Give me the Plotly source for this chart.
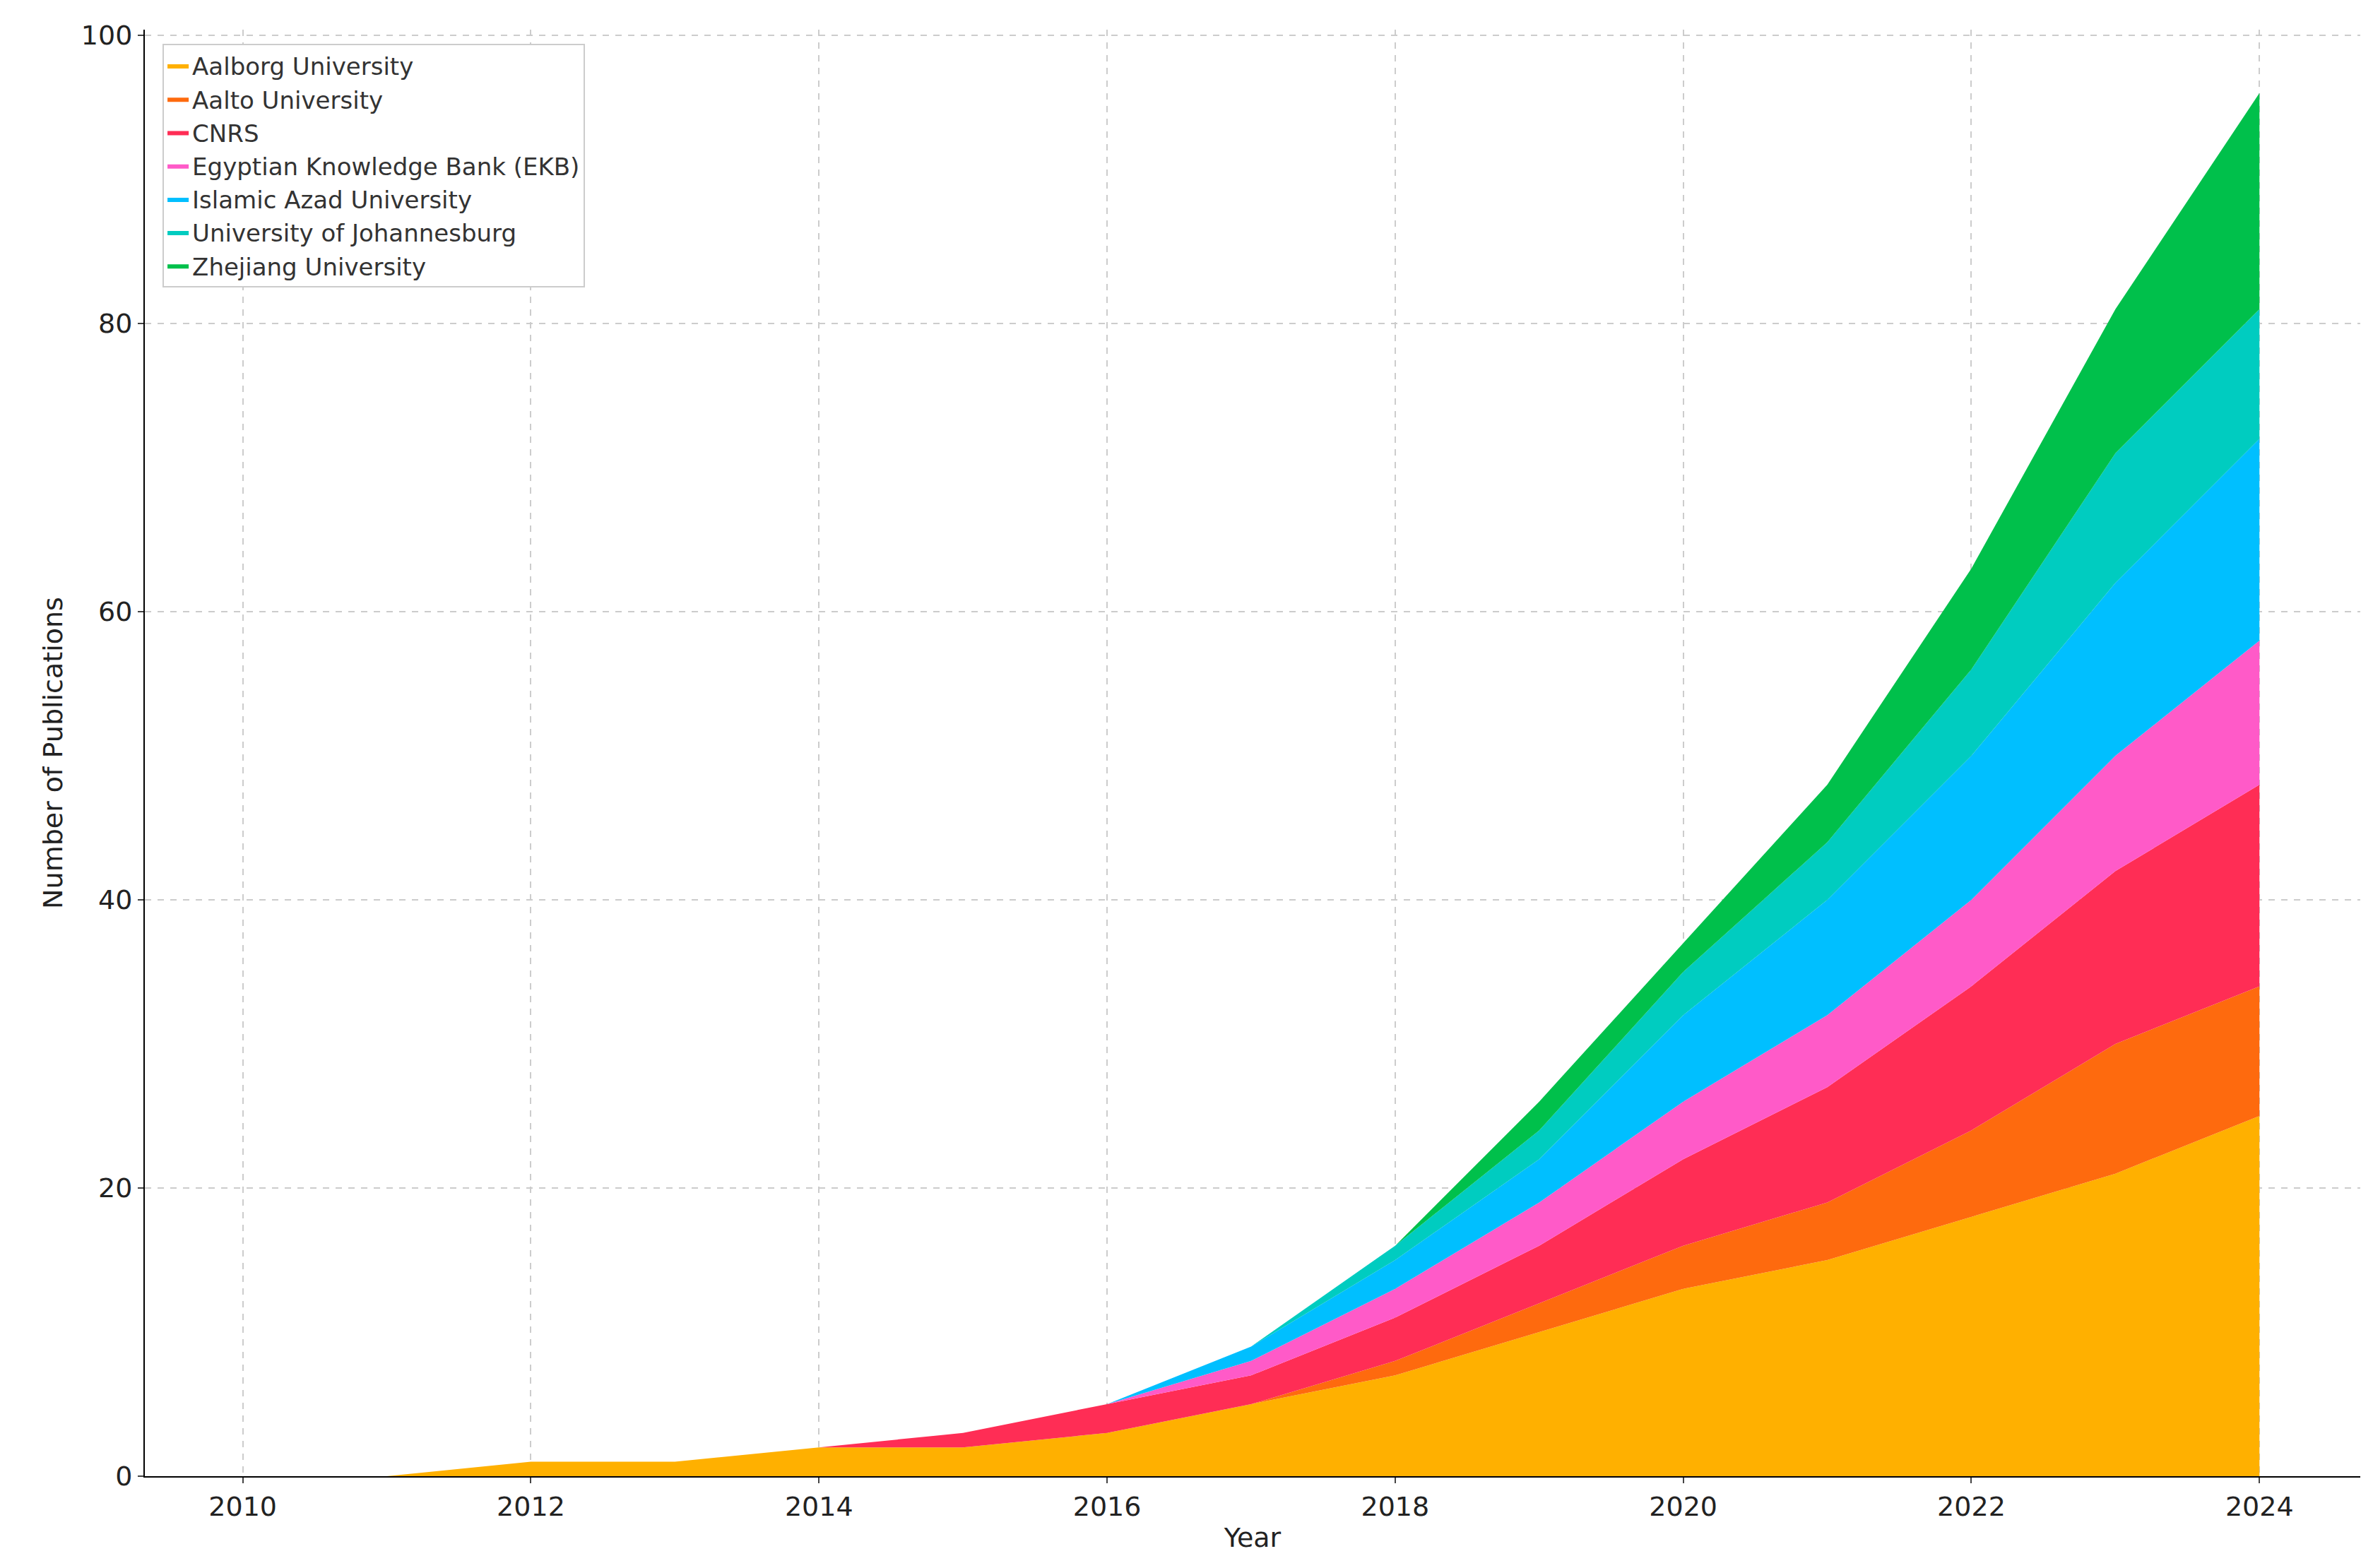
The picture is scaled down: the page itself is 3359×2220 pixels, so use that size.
import plotly.graph_objects as go

years = list(range(2010, 2025))
institutions = [
    "Aalborg University",
    "Aalto University",
    "CNRS",
    "Egyptian Knowledge Bank (EKB)",
    "Islamic Azad University",
    "University of Johannesburg",
    "Zhejiang University",
]
aalborg = [0, 0, 1, 1, 2, 2, 3, 5, 7, 10, 13, 15, 18, 21, 25]
aalto = [0, 0, 0, 0, 0, 0, 0, 0, 1, 2, 3, 4, 6, 9, 9]
cnrs = [0, 0, 0, 0, 0, 1, 2, 2, 3, 4, 6, 8, 10, 12, 14]
ekb = [0, 0, 0, 0, 0, 0, 0, 1, 2, 3, 4, 5, 6, 8, 10]
azad = [0, 0, 0, 0, 0, 0, 0, 1, 2, 3, 6, 8, 10, 12, 14]
johannesburg = [0, 0, 0, 0, 0, 0, 0, 0, 1, 2, 3, 4, 6, 9, 9]
zhejiang = [0, 0, 0, 0, 0, 0, 0, 0, 0, 2, 2, 4, 7, 10, 15]
series = [aalborg, aalto, cnrs, ekb, azad, johannesburg, zhejiang]
colors = ["#FFB000", "#FE6A0E", "#FF2D55", "#FF5AC8", "#00BFFF", "#00CCC0", "#00C04B"]

fig = go.Figure()
for name, vals, c in zip(institutions, series, colors):
    fig.add_trace(go.Scatter(
        x=years, y=vals, name=name, mode="lines", stackgroup="one",
        line=dict(width=0, color=c), fillcolor=c,
    ))

axis_common = dict(
    showgrid=True, gridcolor="#cccccc", griddash="dash", gridwidth=1.5,
    showline=True, linecolor="black", linewidth=2, ticks="outside",
    ticklen=8, tickwidth=2, zeroline=False,
    tickfont=dict(size=38, color="#222"), title_font=dict(size=38, color="#222"),
)
fig.update_xaxes(range=[2009.32, 2024.7], tickvals=list(range(2010, 2025, 2)),
                 title_text="Year", title_standoff=10, **axis_common)
fig.update_yaxes(range=[0, 100.4], tickvals=[0, 20, 40, 60, 80, 100],
                 title_text="Number of Publications", **axis_common)
fig.update_layout(
    width=3359, height=2220, plot_bgcolor="white", paper_bgcolor="white",
    font=dict(family="DejaVu Sans"),
    margin=dict(l=197, r=26, t=34, b=138),
    legend=dict(x=0.008, y=0.99, xanchor="left", yanchor="top",
                bordercolor="#cccccc", borderwidth=2, bgcolor="white",
                font=dict(size=34, color="#333"), traceorder="normal"),
)
fig.write_html("out.html")
